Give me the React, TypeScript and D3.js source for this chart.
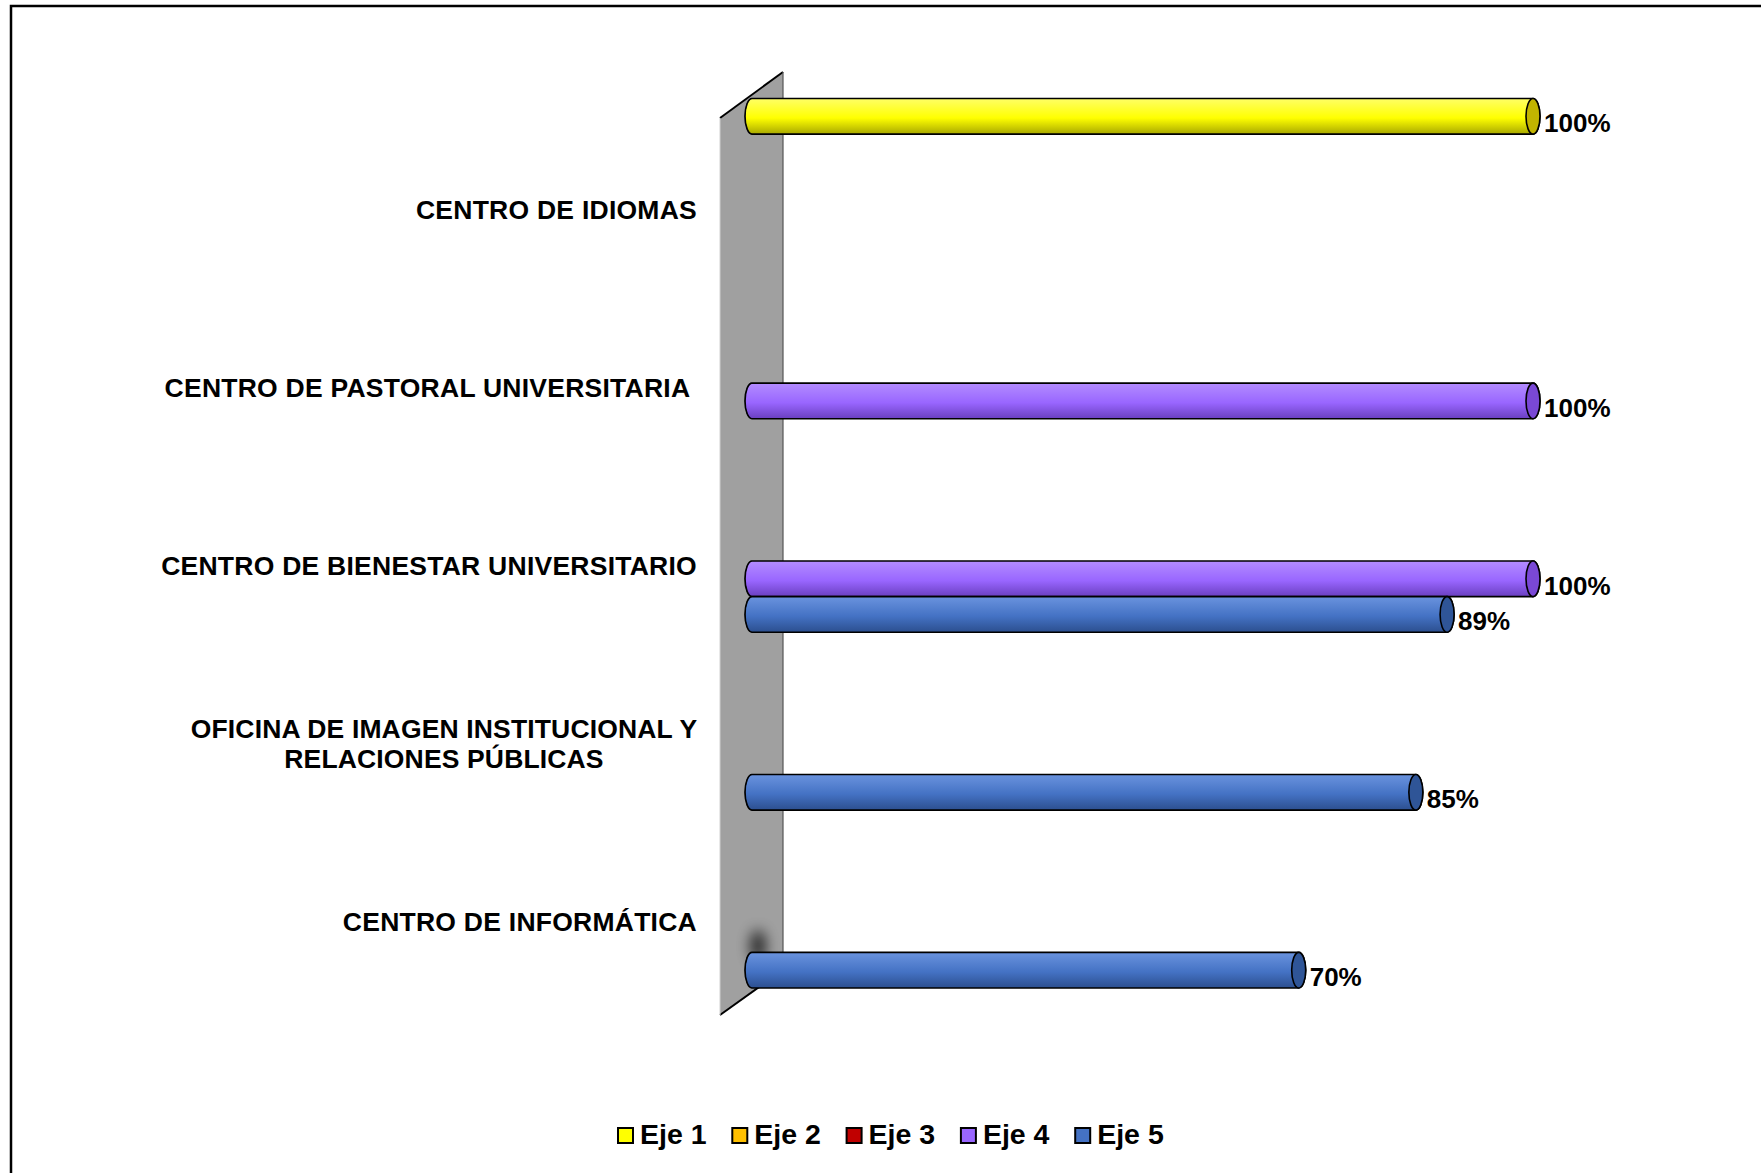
import React from "react";
import * as d3 from "d3";

const categories = [
  "CENTRO DE IDIOMAS",
  "CENTRO DE PASTORAL UNIVERSITARIA ",
  "CENTRO DE BIENESTAR UNIVERSITARIO",
  "OFICINA DE IMAGEN INSTITUCIONAL Y\nRELACIONES PÚBLICAS",
  "CENTRO DE INFORMÁTICA",
];
const seriesNames = ["Eje 1", "Eje 2", "Eje 3", "Eje 4", "Eje 5"];
const eje1 = [1.0, null, null, null, null];
const eje2 = [null, null, null, null, null];
const eje3 = [null, null, null, null, null];
const eje4 = [null, 1.0, 1.0, null, null];
const eje5 = [null, null, 0.89, 0.85, 0.7];
const seriesValues = [eje1, eje2, eje3, eje4, eje5];
const seriesColors = ["#ffff00", "#ffc000", "#c00000", "#9966ff", "#4472c4"];
const seriesLight = ["#ffff66", "#ffd24d", "#e03030", "#b38cff", "#6a93de"];
const seriesDark = ["#a8a800", "#b08400", "#800000", "#6a3fc0", "#2c4f8f"];
const seriesCap = ["#c2b400", "#c89600", "#900000", "#7a48d6", "#2f5597"];

const W = 1761;
const H = 1173;
const FONT = "'Liberation Sans', Arial, sans-serif";

export default function App() {
  const yBand = d3.scaleBand<string>().domain(categories).range([98.5, 988]).padding(0);
  const ySub = d3.scaleBand<string>().domain(seriesNames).range([0, yBand.bandwidth()]).padding(0);
  const x = d3.scaleLinear().domain([0, 1]).range([752, 1533]);
  const fmt = d3.format(".0%");
  const h = ySub.bandwidth();
  const rx = 7;

  const bars: any[] = [];
  seriesValues.forEach((vals, si) => {
    vals.forEach((v, ci) => {
      if (v == null) return;
      const top = (yBand(categories[ci]) as number) + (ySub(seriesNames[si]) as number);
      bars.push({ si, ci, v, top, x0: x(0), x1: x(v) });
    });
  });

  const wallX0 = 720, wallX1 = 783;
  const wall = `M${wallX0},118 L${wallX1},72 L${wallX1},970 L${wallX0},1015 Z`;

  return (
    <svg width={W} height={H} style={{ position: "absolute", left: 0, top: 0, background: "#fff" }} fontFamily={FONT}>
      <defs>
        {seriesColors.map((c, i) => (
          <linearGradient key={i} id={`g${i}`} x1="0" y1="0" x2="0" y2="1">
            <stop offset="0" stopColor={seriesLight[i]} />
            <stop offset="0.55" stopColor={c} />
            <stop offset="1" stopColor={seriesDark[i]} />
          </linearGradient>
        ))}
        <filter id="blur" x="-1" y="-1" width="3" height="3">
          <feGaussianBlur stdDeviation="7" />
        </filter>
      </defs>
      <rect x={0} y={0} width={W} height={H} fill="#fff" />
      <rect x={11} y={6} width={W + 20} height={H + 20} fill="none" stroke="#000" strokeWidth={2.5} />

      {/* wall */}
      <path d={wall} fill="#a0a0a0" stroke="none" />
      <line x1={wallX0} y1={118} x2={wallX1} y2={72} stroke="#000" strokeWidth={2} />
      <line x1={wallX0} y1={1015} x2={wallX1} y2={970} stroke="#000" strokeWidth={2} />
      <line x1={wallX1} y1={72} x2={wallX1} y2={970} stroke="#555" strokeWidth={1.2} />
      <line x1={wallX0} y1={118} x2={wallX0} y2={1015} stroke="#d0d0d0" strokeWidth={1} />
      <ellipse cx={758} cy={946} rx={8} ry={16} fill="#000" opacity={0.75} filter="url(#blur)" />

      {/* bars */}
      {bars.map((b, i) => {
        const bot = b.top + h;
        const cy = b.top + h / 2;
        const d = `M${b.x0},${b.top} L${b.x1},${b.top} A${rx},${h / 2} 0 0 1 ${b.x1},${bot} L${b.x0},${bot} A${rx},${h / 2} 0 0 1 ${b.x0},${b.top} Z`;
        return (
          <g key={i}>
            <path d={d} fill={`url(#g${b.si})`} stroke="#000" strokeWidth={1.6} />
            <path d={`M${b.x0},${b.top} A${rx},${h / 2} 0 0 0 ${b.x0},${bot}`} fill="none" stroke="#000" strokeWidth={0.8} opacity={0.6} />
            <ellipse cx={b.x1} cy={cy} rx={rx} ry={h / 2} fill={seriesCap[b.si]} stroke="#000" strokeWidth={1.6} />
            <text x={b.x1 + rx + 4} y={cy + 9} dominantBaseline="middle" fontSize={26} fontWeight="bold" fill="#000">
              {fmt(b.v)}
            </text>
          </g>
        );
      })}

      {/* category labels */}
      {categories.map((c, ci) => {
        const cy = (yBand(c) as number) + yBand.bandwidth() / 2 + 25;
        const lines = c.split("\n");
        if (lines.length === 1) {
          return (
            <text key={ci} x={697} y={cy} textAnchor="end" dominantBaseline="middle" fontSize={26.5} letterSpacing={0.25} fontWeight="bold" fill="#000" style={{ whiteSpace: "pre" }}>
              {c}
            </text>
          );
        }
        const lh = 30;
        return (
          <text key={ci} textAnchor="middle" fontSize={26.5} letterSpacing={0.15} fontWeight="bold" fill="#000">
            {lines.map((l, li) => (
              <tspan key={li} x={444} y={cy - ((lines.length - 1) * lh) / 2 + li * lh} dominantBaseline="middle">
                {l}
              </tspan>
            ))}
          </text>
        );
      })}

      {/* legend */}
      {seriesNames.map((s, i) => {
        const lx = 618 + i * 114.3;
        return (
          <g key={s}>
            <rect x={lx} y={1128} width={15} height={15} fill={seriesColors[i]} stroke="#000" strokeWidth={2} />
            <text x={lx + 22} y={1136} dominantBaseline="middle" fontSize={28.5} fontWeight="bold" fill="#000">
              {s}
            </text>
          </g>
        );
      })}
    </svg>
  );
}
